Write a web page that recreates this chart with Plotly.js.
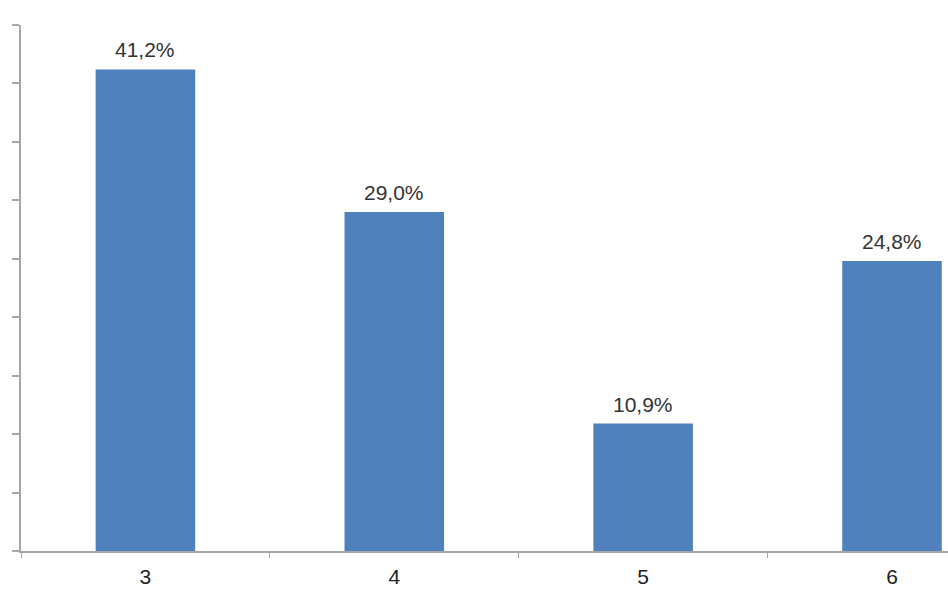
<!DOCTYPE html>
<html>
<head>
<meta charset="utf-8">
<script src="https://cdn.plot.ly/plotly-3.0.1.min.js"></script>
<style>html,body{margin:0;padding:0;background:#fff;}#chart{width:948px;height:593px;}</style>
</head>
<body>
<div id="chart"></div>
<script>
const categories = ["3", "4", "5", "6"];
const values = [41.2, 29.0, 10.9, 24.8];
const labels = ["41,2%", "29,0%", "10,9%", "24,8%"];

const trace = {
  type: "bar",
  x: categories,
  y: values,
  width: 0.4,
  marker: {color: "#4f81bd", line: {width: 0}},
  hoverinfo: "none"
};

const annotations = categories.map((c, i) => ({
  x: i, y: values[i], xref: "x", yref: "y",
  text: labels[i], showarrow: false,
  yanchor: "bottom", yshift: 6,
  font: {family: "Liberation Sans, Arial, sans-serif", size: 21, color: "#333333"}
}));

const layout = {
  width: 948, height: 593,
  margin: {l: 21, r: 0, t: 25, b: 42},
  paper_bgcolor: "#ffffff", plot_bgcolor: "#ffffff",
  showlegend: false,
  bargap: 0.6,
  xaxis: {
    type: "category",
    range: [-0.5, 3.225],
    showline: true, linecolor: "#a6a6a6", linewidth: 2,
    ticks: "outside", tickson: "boundaries", ticklen: 5, tickcolor: "#a6a6a6", tickwidth: 1,
    showgrid: false, zeroline: false,
    tickfont: {family: "Liberation Sans, Arial, sans-serif", size: 21, color: "#222222"},
    ticklabelstandoff: 6
  },
  yaxis: {
    range: [0, 45], dtick: 5, tick0: 0,
    showline: true, linecolor: "#a6a6a6", linewidth: 2,
    ticks: "outside", ticklen: 7, tickcolor: "#a6a6a6", tickwidth: 2,
    showgrid: false, zeroline: false, showticklabels: false
  },
  annotations: annotations
};

Plotly.newPlot("chart", [trace], layout, {displayModeBar: false, staticPlot: true});
</script>
</body>
</html>
